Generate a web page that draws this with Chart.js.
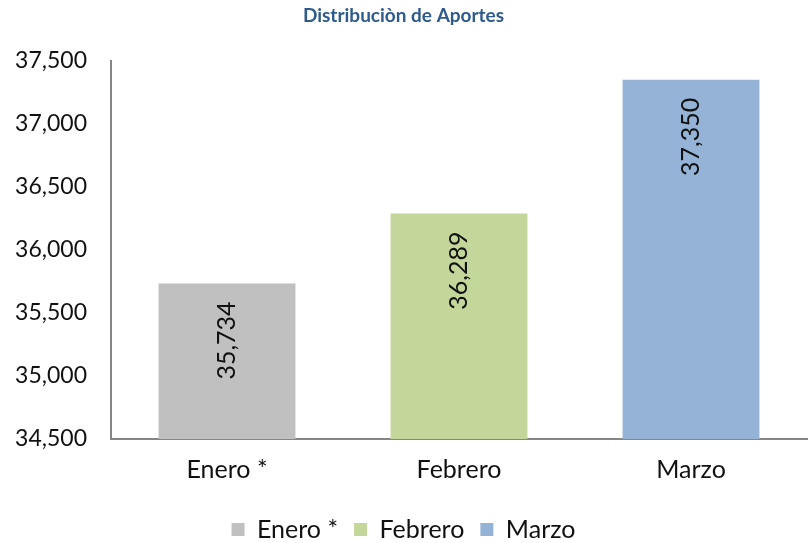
<!DOCTYPE html>
<html>
<head>
<meta charset="utf-8">
<script src="https://cdn.jsdelivr.net/npm/chart.js@4/dist/chart.umd.min.js"></script>
<style>
  html, body { margin: 0; padding: 0; background: #fff; }
  #wrap { width: 809px; height: 543px; }
</style>
</head>
<body>
<div id="wrap"><canvas id="myChart" width="809" height="543"></canvas></div>
<script>
// data
var meses = ["Enero *", "Febrero", "Marzo"];
var aportes = [35734, 36289, 37350];
var colores = ["#C0C0C0", "#C4D79B", "#95B3D7"];
var yTicks = [34500, 35000, 35500, 36000, 36500, 37000, 37500];

var fontFam = "Lato, 'Open Sans', sans-serif";

// value labels written vertically inside the top of each bar
var barLabels = {
  id: "barLabels",
  afterDatasetsDraw: function (chart) {
    var ctx = chart.ctx;
    chart.data.datasets.forEach(function (ds, i) {
      var meta = chart.getDatasetMeta(i);
      meta.data.forEach(function (bar, j) {
        if (ds.data[j] == null) return;
        ctx.save();
        ctx.translate(bar.x, bar.y + 18);
        ctx.rotate(-Math.PI / 2);
        ctx.font = "25px " + fontFam;
        ctx.fillStyle = "#111";
        ctx.textAlign = "right";
        ctx.textBaseline = "middle";
        ctx.fillText(ds.data[j].toLocaleString("en-US"), 0, 0);
        ctx.restore();
      });
    });
  }
};

// one dataset per month so the legend shows every month
var sets = meses.map(function (m, i) {
  var d = meses.map(function (_, j) { return j === i ? aportes[i] : null; });
  return {
    label: m,
    data: d,
    backgroundColor: colores[i],
    borderWidth: 0,
    barPercentage: 0.59,
    categoryPercentage: 1,
    skipNull: true
  };
});

new Chart("myChart", {
  type: "bar",
  data: { labels: meses, datasets: sets },
  options: {
    responsive: false,
    animation: false,
    layout: { padding: { left: 0, right: 2, top: 0, bottom: -9 } },
    plugins: {
      title: {
        display: true,
        text: "Distribuciòn de Aportes",
        color: "#2E5A8C",
        font: { family: fontFam, size: 19, weight: "bold" },
        padding: { top: 4, bottom: 34 }
      },
      legend: {
        display: true,
        position: "bottom",
        labels: {
          boxWidth: 13,
          boxHeight: 13,
          color: "#111",
          font: { family: fontFam, size: 25 },
          padding: 16
        }
      },
      tooltip: { enabled: false }
    },
    scales: {
      x: {
        grid: { display: false, drawTicks: false },
        border: { display: true, color: "#868686", width: 2 },
        ticks: { color: "#111", font: { family: fontFam, size: 25 }, padding: 16 }
      },
      y: {
        min: 34500,
        max: 37500,
        afterBuildTicks: function (axis) {
          axis.ticks = yTicks.map(function (v) { return { value: v }; });
        },
        afterFit: function (axis) { axis.width = 111; },
        grid: { display: false, drawTicks: false },
        border: { display: true, color: "#868686", width: 2 },
        ticks: {
          color: "#111",
          font: { family: fontFam, size: 23 },
          padding: 24,
          callback: function (v) { return v.toLocaleString("en-US"); }
        }
      }
    }
  },
  plugins: [barLabels]
});
</script>
</body>
</html>
